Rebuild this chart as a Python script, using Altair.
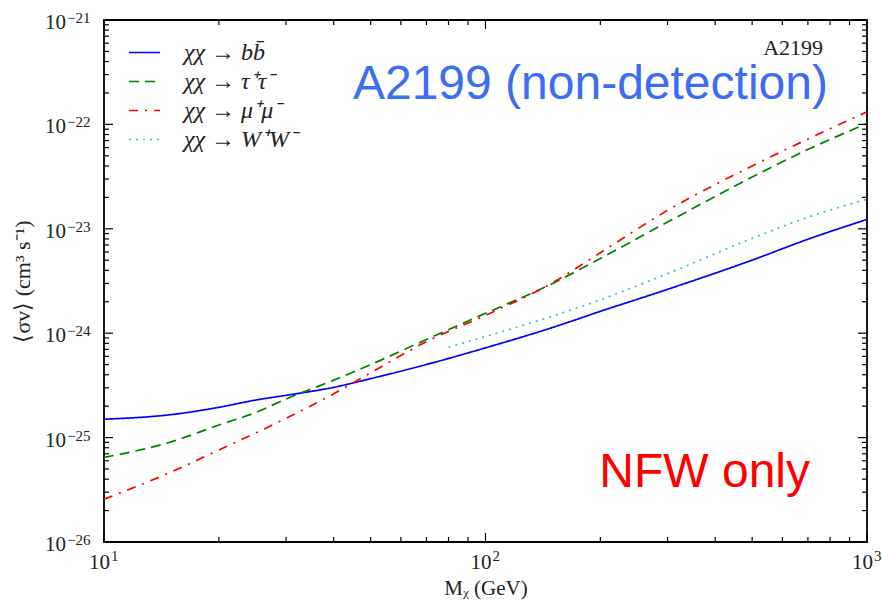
import altair as alt
import pandas as pd

# ---- data ----
mass_bb = [10, 15, 20, 25, 30, 40, 50, 70, 100, 150, 200, 300, 500, 700, 1000]
sv_bb = [1.50e-25, 1.66e-25, 1.95e-25, 2.29e-25, 2.54e-25, 3.03e-25, 3.67e-25, 5.01e-25,
         7.24e-25, 1.135e-24, 1.62e-24, 2.63e-24, 5.01e-24, 7.94e-24, 1.23e-23]
mass_tt = [10, 15, 20, 25, 30, 40, 50, 70, 100, 150, 200, 300, 500, 700, 1000]
sv_tt = [6.46e-26, 9.1e-26, 1.32e-25, 1.74e-25, 2.34e-25, 3.55e-25, 5.0e-25, 8.7e-25,
         1.55e-24, 3.0e-24, 5.2e-24, 1.16e-23, 3.13e-23, 5.75e-23, 1.02e-22]
mass_mm = [10, 15, 20, 25, 30, 40, 50, 70, 100, 150, 200, 300, 500, 700, 1000]
sv_mm = [2.57e-26, 4.68e-26, 7.6e-26, 1.11e-25, 1.53e-25, 2.63e-25, 4.17e-25, 8.3e-25,
         1.48e-24, 3.05e-24, 5.9e-24, 1.5e-23, 4.0e-23, 7.24e-23, 1.32e-22]
mass_ww = [80, 100, 150, 200, 300, 500, 700, 1000]
sv_ww = [7.33e-25, 9.3e-25, 1.46e-24, 2.09e-24, 3.72e-24, 8.1e-24, 1.29e-23, 1.92e-23]

channels = ["χχ → bb̄", "χχ → τ⁺τ⁻", "χχ → μ⁺μ⁻", "χχ → W⁺W⁻"]
colors = ["#0000FF", "#008000", "#FF0000", "#33C3C3"]
dashes = [[1, 0], [10, 6], [9, 7, 2, 7], [2, 5]]

x_major = [10, 100, 1000]
x_exps = ["1", "2", "3"]
x_minor = [k * d for d in (10, 100) for k in range(2, 10)]
y_major = [1e-26, 1e-25, 1e-24, 1e-23, 1e-22, 1e-21]
y_exps = ["−26", "−25", "−24", "−23", "−22", "−21"]
y_minor = [k * 10.0 ** e for e in range(-26, -21) for k in range(2, 10)]

rows = []
for ch, ms, vs in zip(channels, [mass_bb, mass_tt, mass_mm, mass_ww], [sv_bb, sv_tt, sv_mm, sv_ww]):
    for m, v in zip(ms, vs):
        rows.append({"mass": m, "sigma": v, "channel": ch})
df = pd.DataFrame(rows)

W, H = 763, 522
XS = alt.Scale(type="log", domain=[10, 1000], nice=False)
YS = alt.Scale(type="log", domain=[1e-26, 1e-21], nice=False)
FONT = "Liberation Serif"
INK = "#222222"

leg = alt.Legend(orient="none", legendX=24, legendY=16, title=None, symbolType="stroke",
                 symbolSize=961, symbolStrokeWidth=1.7, labelFont=FONT, labelFontSize=24,
                 labelFontStyle="italic", labelOffset=23, rowPadding=0, labelColor=INK)

XAX = alt.Axis(values=x_major, labels=False, ticks=False, domain=False, grid=False,
               title="Mᵪ (GeV)", titleFont=FONT, titleFontSize=21,
               titleFontWeight="normal", titleColor=INK, titleY=46, titleBaseline="middle")
YAX = alt.Axis(values=y_major, labels=False, ticks=False, domain=False, grid=False,
               title="⟨σv⟩ (cm³ s⁻¹)", titleFont=FONT, titleFontSize=22,
               titleFontWeight="normal", titleColor=INK, titleX=-82, titleY=H / 2,
               titleBaseline="middle", titleAngle=-90)

XE = alt.X("mass:Q", scale=XS, axis=XAX)
YE = alt.Y("sigma:Q", scale=YS, axis=YAX)

lines = alt.Chart(df).mark_line(strokeWidth=1.7, clip=True, interpolate="monotone").encode(
    x=XE, y=YE,
    color=alt.Color("channel:N", scale=alt.Scale(domain=channels, range=colors), legend=leg,
                    sort=channels),
    strokeDash=alt.StrokeDash("channel:N", scale=alt.Scale(domain=channels, range=dashes),
                              legend=leg, sort=channels),
    order="mass:Q",
)


def xticks(vals, length):
    d = pd.DataFrame({"mass": vals})
    b = alt.Chart(d).mark_rule(color="black", strokeWidth=1.2).encode(
        x=XE, y=alt.value(H), y2=alt.value(H - length))
    t = alt.Chart(d).mark_rule(color="black", strokeWidth=1.2).encode(
        x=XE, y=alt.value(0), y2=alt.value(length))
    return [b, t]


def yticks(vals, length):
    d = pd.DataFrame({"sigma": vals})
    l = alt.Chart(d).mark_rule(color="black", strokeWidth=1.2).encode(
        y=YE, x=alt.value(0), x2=alt.value(length))
    r = alt.Chart(d).mark_rule(color="black", strokeWidth=1.2).encode(
        y=YE, x=alt.value(W), x2=alt.value(W - length))
    return [l, r]


# tick labels: "10" plus a raised exponent
xl = pd.DataFrame({"mass": x_major, "exp": x_exps})
yl = pd.DataFrame({"sigma": y_major, "exp": y_exps})
x_base = alt.Chart(xl).mark_text(align="right", baseline="alphabetic", dx=6, dy=27,
                                 font=FONT, fontSize=21, color=INK).encode(
    x=XE, y=alt.value(H), text=alt.value("10"))
x_sup = alt.Chart(xl).mark_text(align="left", baseline="alphabetic", dx=7, dy=19,
                                font=FONT, fontSize=15, color=INK).encode(
    x=XE, y=alt.value(H), text="exp:N")
y_base = alt.Chart(yl).mark_text(align="right", baseline="alphabetic", dx=-38, dy=9,
                                 font=FONT, fontSize=21, color=INK).encode(
    y=YE, x=alt.value(0), text=alt.value("10"))
y_sup = alt.Chart(yl).mark_text(align="left", baseline="alphabetic", dx=-37, dy=3,
                                font=FONT, fontSize=15, color=INK).encode(
    y=YE, x=alt.value(0), text="exp:N")

ann_text = ["A2199 (non-detection)", "NFW only", "A2199"]
ann_mass = [790, 709, 767]
ann_sigma = [1.75e-22, 3.39e-26, 4.6e-22]
ann = pd.DataFrame({"mass": ann_mass, "sigma": ann_sigma, "label": ann_text})

big_blue = alt.Chart(ann.iloc[[0]]).mark_text(align="right", baseline="alphabetic",
    font="Liberation Sans", fontSize=48, color="#3C6DF4").encode(x=XE, y=YE, text="label:N")
big_red = alt.Chart(ann.iloc[[1]]).mark_text(align="right", baseline="alphabetic",
    font="Liberation Sans", fontSize=48, color="#FF0000").encode(x=XE, y=YE, text="label:N")
small = alt.Chart(ann.iloc[[2]]).mark_text(align="right", baseline="alphabetic",
    font=FONT, fontSize=22, color=INK).encode(x=XE, y=YE, text="label:N")

layers = [lines] + xticks(x_major, 9) + xticks(x_minor, 5) + yticks(y_major, 9) + yticks(y_minor, 5) \
    + [x_base, x_sup, y_base, y_sup, big_blue, big_red, small]

chart = alt.layer(*layers).properties(
    width=W, height=H,
    autosize=alt.AutoSizeParams(type="none"),
    padding={"left": 104, "top": 20, "right": 15, "bottom": 59},
    background="white",
).configure_view(stroke="black", strokeWidth=1.8)

chart.save("out.html", embed_options={"renderer": "svg", "actions": False})
